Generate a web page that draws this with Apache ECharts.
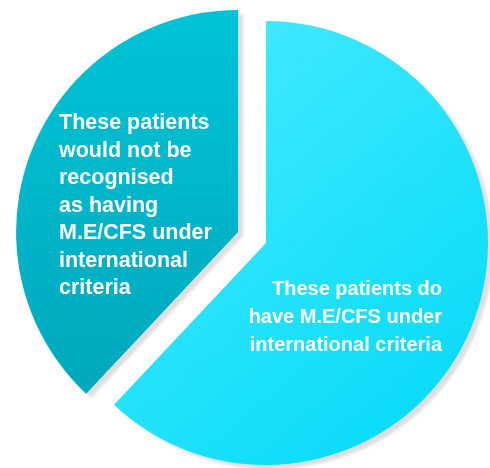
<!DOCTYPE html>
<html>
<head>
<meta charset="utf-8">
<script src="https://cdn.jsdelivr.net/npm/echarts@6/dist/echarts.min.js"></script>
<style>
html,body{margin:0;padding:0;background:#fff;}
#chart{width:490px;height:468px;}
</style>
</head>
<body>
<div id="chart"></div>
<script>
// Data
const categories = [
  "These patients do\nhave M.E/CFS under\ninternational criteria",
  "These patients\nwould not be\nrecognised\nas having\nM.E/CFS under\ninternational\ncriteria"
];
const values = [62, 38];
const explodedIndex = 1;

const fills = [
  new echarts.graphic.LinearGradient(0, 0, 1, 1, [
    {offset: 0, color: '#4aecff'},
    {offset: 1, color: '#00d9f6'}
  ]),
  new echarts.graphic.LinearGradient(0, 0, 0, 1, [
    {offset: 0, color: '#00c3d7'},
    {offset: 1, color: '#00a8bc'}
  ])
];
const labelPos = [
  {x: 442, y: 317, align: 'right', verticalAlign: 'middle'},
  {x: 59, y: 206, align: 'left', verticalAlign: 'middle'}
];
const labelFont = [20, 21.5];
const labelLH = [28, 27.5];

const baseCenter = [266, 243];
const R = 222;
const explodeDist = 30;

// compute explode direction from data (mid angle of exploded slice)
const total = values.reduce((a, b) => a + b, 0);
let before = 0;
for (let i = 0; i < explodedIndex; i++) before += values[i];
const midFrac = (before + values[explodedIndex] / 2) / total;
const midAng = midFrac * 2 * Math.PI; // clockwise from 12 o'clock
const explodedCenter = [
  baseCenter[0] + explodeDist * Math.sin(midAng),
  baseCenter[1] - explodeDist * Math.cos(midAng)
];

function makeSeries(visibleIndex, center) {
  return {
    type: 'pie',
    center: center,
    radius: R,
    startAngle: 90,
    clockwise: true,
    silent: true,
    avoidLabelOverlap: false,
    labelLine: {show: false},
    emphasis: {disabled: true},
    label: {
      show: true,
      position: 'inside',
      formatter: '{b}',
      color: '#ffffff',
      fontFamily: '"Liberation Sans", Arial, sans-serif',
      fontWeight: 'bold',
      fontSize: 20,
      lineHeight: 27.8
    },
    labelLayout: function (params) {
      return labelPos[params.dataIndex];
    },
    data: categories.map((c, i) => {
      const vis = i === visibleIndex;
      return {
        name: c,
        value: values[i],
        itemStyle: vis ? {
          color: fills[i],
          shadowColor: 'rgba(0,0,0,0.13)',
          shadowBlur: 3,
          shadowOffsetX: 5,
          shadowOffsetY: 4
        } : {color: 'rgba(0,0,0,0)'},
        label: vis ? {align: labelPos[i].align, fontSize: labelFont[i], lineHeight: labelLH[i]} : {show: false}
      };
    })
  };
}

const chart = echarts.init(document.getElementById('chart'), null, {renderer: 'canvas'});
chart.setOption({
  animation: false,
  series: [
    makeSeries(0, baseCenter),
    makeSeries(1, explodedCenter)
  ]
});
</script>
</body>
</html>
